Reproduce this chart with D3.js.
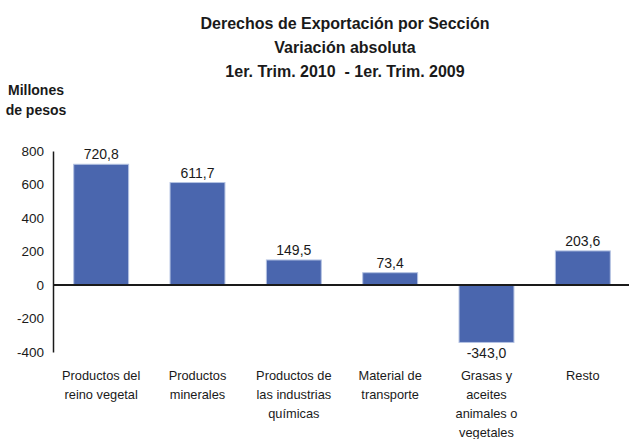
<!DOCTYPE html>
<html><head><meta charset="utf-8">
<script src="https://cdn.jsdelivr.net/npm/d3@7"></script>
<style>
body{margin:0;background:#fff;}
text{font-family:"Liberation Sans Narrow","Arial Narrow","Liberation Sans",Arial,sans-serif;fill:#1a1a1a;white-space:pre;}
</style></head><body>
<svg id="chart" width="629" height="439"></svg>
<script>
const categories = ["Productos del\nreino vegetal","Productos\nminerales","Productos de\nlas industrias\nquímicas","Material de\ntransporte","Grasas y\naceites\nanimales o\nvegetales","Resto"];
const values = [720.8, 611.7, 149.5, 73.4, -343.0, 203.6];
const yTicks = [800, 600, 400, 200, 0, -200, -400];
const titleLines = ["Derechos de Exportación por Sección","Variación absoluta","1er. Trim. 2010  - 1er. Trim. 2009"];
const yLabel = ["Millones","de pesos"];

const svg = d3.select("#chart");
const x = d3.scaleBand().domain(categories).range([53, 631]).paddingInner(0.43).paddingOuter(0.215);
const y = d3.scaleLinear().domain([-400, 800]).range([352, 151]);
const fmt = v => d3.format(".1f")(v).replace(".", ",").replace("\u2212", "-");

// title
svg.append("g").selectAll("text").data(titleLines).join("text")
  .attr("x", 345).attr("y", (d,i) => 29 + i*24)
  .attr("text-anchor","middle").attr("font-size",16).attr("font-weight","bold").text(d=>d);

// y label
svg.append("g").selectAll("text").data(yLabel).join("text")
  .attr("x", 36).attr("y", (d,i) => 95 + i*20)
  .attr("text-anchor","middle").attr("font-size",14).attr("font-weight","bold").text(d=>d);

// y axis
const yAxis = d3.axisLeft(y).tickValues(yTicks).tickSize(0).tickPadding(9).tickFormat(d=>String(d));
const gy = svg.append("g").attr("transform","translate(53,0)").call(yAxis);
gy.select(".domain").attr("stroke","#1a1a1a").attr("stroke-width",1.5);
gy.selectAll("text").attr("font-size",13.5).style("font-family",'"Liberation Sans Narrow","Arial Narrow","Liberation Sans",Arial,sans-serif').attr("fill","#1a1a1a");

// bars
svg.append("g").selectAll("rect").data(values).join("rect")
  .attr("x",(d,i)=>x(categories[i]))
  .attr("width",x.bandwidth())
  .attr("y",d=>y(Math.max(0,d)))
  .attr("height",d=>Math.abs(y(d)-y(0)))
  .attr("fill","#4A66AE").attr("stroke","#B4C2E2").attr("stroke-width",1);

// zero line
svg.append("line").attr("x1",53).attr("x2",631).attr("y1",y(0)).attr("y2",y(0))
  .attr("stroke","#1a1a1a").attr("stroke-width",2);

// value labels
svg.append("g").selectAll("text").data(values).join("text")
  .attr("x",(d,i)=>x(categories[i])+x.bandwidth()/2)
  .attr("y",d=> d>=0 ? y(d)-5 : y(d)+16)
  .attr("text-anchor","middle").attr("font-size",14).text(d=>fmt(d));

// category labels
const gl = svg.append("g");
categories.forEach((c,i)=>{
  const t = gl.append("text").attr("x", x(c)+x.bandwidth()/2).attr("y",380)
    .attr("text-anchor","middle").attr("font-size",12.8);
  c.split("\n").forEach((ln,j)=>{
    t.append("tspan").attr("x", x(c)+x.bandwidth()/2).attr("dy", j===0?0:19).text(ln);
  });
});
</script></body></html>
